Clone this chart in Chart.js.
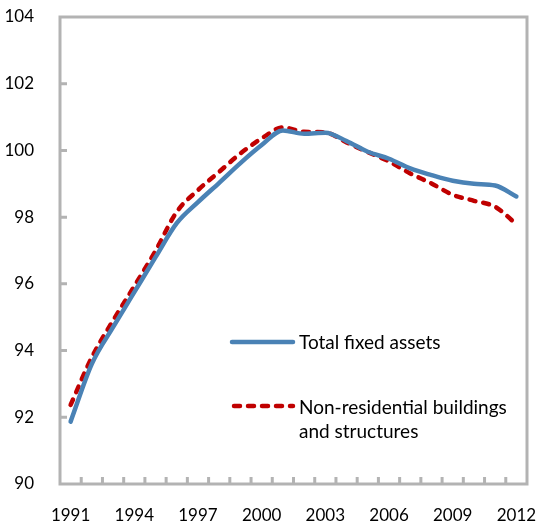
<!DOCTYPE html>
<html>
<head>
<meta charset="utf-8">
<script src="https://cdn.jsdelivr.net/npm/chart.js@4"></script>
<style>
  html, body { margin: 0; padding: 0; background: #fff; }
  #wrap { width: 540px; height: 522px; position: relative; }
</style>
</head>
<body>
<div id="wrap"><canvas id="chart" width="540" height="522"></canvas></div>
<script>
// Chart data
const years = ['1991', '1992', '1993', '1994', '1995', '1996', '1997', '1998', '1999', '2000', '2001',
  '2002', '2003', '2004', '2005', '2006', '2007', '2008', '2009', '2010', '2011', '2012'];
const totalFixedAssets = [91.87, 93.6, 94.7, 95.75, 96.8, 97.82, 98.45, 99.03, 99.62, 100.16, 100.6,
  100.5, 100.53, 100.28, 99.96, 99.75, 99.46, 99.26, 99.09, 99.0, 98.95, 98.62];
const nonResidential = [92.37, 93.8, 94.9, 95.93, 96.99, 98.16, 98.81, 99.36, 99.91, 100.36, 100.69,
  100.56, 100.54, 100.24, 99.95, 99.67, 99.31, 99.01, 98.67, 98.49, 98.31, 97.79];
const yMin = 90;
const yMax = 104;
const yStep = 2;
const labelEvery = 3;

const FONT = 'Lato, "Liberation Sans", sans-serif';
const TEXT_COLOR = '#000';
const AXIS_COLOR = '#b3b3b3';

// Frame, inward tick marks and the legend
const framePlugin = {
  id: 'frame',
  afterDatasetsDraw(chart) {
    const { ctx, chartArea: a, scales } = chart;
    ctx.save();
    ctx.strokeStyle = AXIS_COLOR;
    ctx.lineWidth = 3;
    ctx.strokeRect(a.left, a.top, a.right - a.left, a.bottom - a.top);

    const tickLen = 7;
    ctx.beginPath();
    const xs = scales.x;
    for (let i = 0; i < years.length - 1; i++) {
      const px = (xs.getPixelForValue(i) + xs.getPixelForValue(i + 1)) / 2;
      ctx.moveTo(px, a.bottom);
      ctx.lineTo(px, a.bottom - tickLen);
    }
    const ys = scales.y;
    ys.ticks.forEach(t => {
      if (t.value === yMin || t.value === yMax) return;
      const py = ys.getPixelForValue(t.value);
      ctx.moveTo(a.left, py);
      ctx.lineTo(a.left + tickLen, py);
    });
    ctx.stroke();

    // Legend inside the plot
    const lx0 = 232, lx1 = 293, tx = 299;
    ctx.lineCap = 'round';
    ctx.lineWidth = 4.5;
    ctx.strokeStyle = chart.data.datasets[0].borderColor;
    ctx.beginPath();
    ctx.moveTo(lx0, 342);
    ctx.lineTo(lx1, 342);
    ctx.stroke();

    ctx.strokeStyle = chart.data.datasets[1].borderColor;
    ctx.setLineDash([6, 8]);
    ctx.beginPath();
    ctx.moveTo(lx0 + 2, 406);
    ctx.lineTo(lx1, 406);
    ctx.stroke();
    ctx.setLineDash([]);

    ctx.fillStyle = TEXT_COLOR;
    ctx.font = '19px ' + FONT;
    ctx.textBaseline = 'middle';
    ctx.textAlign = 'left';
    ctx.fillText(chart.data.datasets[0].label, tx, 343);
    ctx.fillText('Non-residential buildings', tx, 408);
    ctx.fillText('and structures', tx, 432);
    ctx.restore();
  }
};

// keep the plot area fixed by the layout padding, not by label overflow
function clearPadding(s) {
  s.paddingTop = 0;
  s.paddingBottom = 0;
  s.paddingLeft = 0;
  s.paddingRight = 0;
}

const ctx = document.getElementById('chart').getContext('2d');
new Chart(ctx, {
  type: 'line',
  data: {
    labels: years,
    datasets: [{
      label: 'Total fixed assets',
      data: totalFixedAssets,
      borderColor: '#4a82b5',
      borderWidth: 4.5,
      borderCapStyle: 'round',
      borderJoinStyle: 'round',
      pointRadius: 0,
      cubicInterpolationMode: 'monotone'
    }, {
      label: 'Non-residential buildings and structures',
      data: nonResidential,
      borderColor: '#c00000',
      borderWidth: 4.5,
      borderDash: [6, 8],
      borderCapStyle: 'round',
      borderJoinStyle: 'round',
      pointRadius: 0,
      cubicInterpolationMode: 'monotone'
    }]
  },
  options: {
    responsive: false,
    animation: false,
    layout: { padding: { top: 17, right: 13, left: 0, bottom: 0 } },
    plugins: {
      legend: { display: false },
      tooltip: { enabled: false }
    },
    scales: {
      x: {
        type: 'category',
        offset: true,
        grid: { display: false },
        border: { display: false },
        ticks: {
          autoSkip: false,
          maxRotation: 0,
          padding: 13,
          color: TEXT_COLOR,
          font: { family: FONT, size: 17 },
          callback: (v, i) => (i % labelEvery === 0 ? years[i] : '')
        },
        afterFit: s => { s.height = 38; clearPadding(s); }
      },
      y: {
        min: yMin,
        max: yMax,
        grid: { display: false },
        border: { display: false },
        ticks: {
          stepSize: yStep,
          padding: 18,
          color: TEXT_COLOR,
          font: { family: FONT, size: 17 }
        },
        afterFit: s => { s.width = 60; clearPadding(s); }
      }
    }
  },
  plugins: [framePlugin]
});
</script>
</body>
</html>
